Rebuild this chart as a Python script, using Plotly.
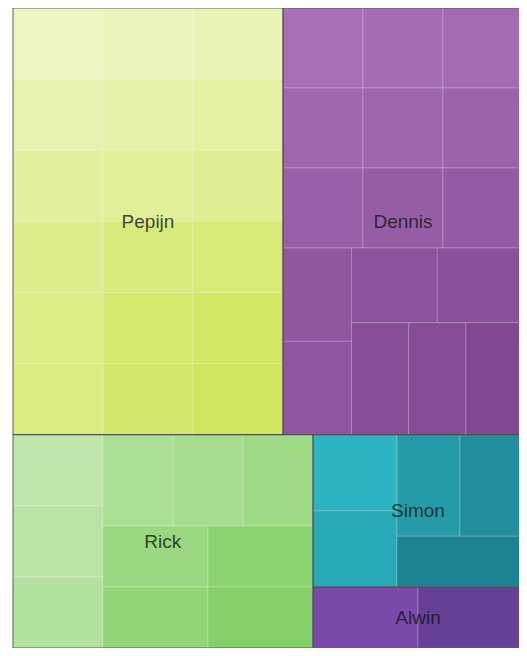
import plotly.graph_objects as go

# ---- data ----
people = ["Pepijn", "Dennis", "Rick", "Simon", "Alwin"]
pepijn_items = [1, 1, 1, 1, 1, 1, 1, 1, 1, 1, 1, 1, 1, 1, 1, 1, 1, 1]
dennis_items = [1, 1, 1, 1, 1, 1, 1, 1, 1, 1, 1, 1, 1, 1, 1, 1]
rick_items = [1, 1, 1, 1, 1, 1, 1, 1, 1, 1]
simon_items = [1, 1, 1, 1, 1]
alwin_items = [1, 1]

# ---- styles ----
light_cols = ["#ecf5c0", "#a86fb8", "#bfe7ac", "#2db4c3", "#7a4aab"]
dark_cols = ["#d0e65e", "#824894", "#86d06a", "#1d8292", "#663f96"]


def hex2rgb(h):
    h = h.lstrip("#")
    return tuple(int(h[i:i + 2], 16) for i in (0, 2, 4))


def mix(a, b, t):
    ca, cb = hex2rgb(a), hex2rgb(b)
    return "rgb(%d,%d,%d)" % tuple(round(ca[k] + (cb[k] - ca[k]) * t) for k in range(3))


items = [pepijn_items, dennis_items, rick_items, simon_items, alwin_items]

ids, labels, parents, values, colors, linecols = [], [], [], [], [], []
for p, vals, lc, dc in zip(people, items, light_cols, dark_cols):
    ids.append(p)
    labels.append(p)
    parents.append("")
    values.append(sum(vals))
    colors.append(mix(lc, dc, 0.5))
    linecols.append("rgba(255,255,255,0.25)")
    n = len(vals)
    for i, v in enumerate(vals):
        t = i / (n - 1) if n > 1 else 0.5
        ids.append(f"{p}-{i + 1}")
        labels.append(f"{p} {i + 1}")
        parents.append(p)
        values.append(v)
        colors.append(mix(lc, dc, t))
        linecols.append("rgba(255,255,255,0.22)")

fig = go.Figure()

# children layer
fig.add_trace(go.Treemap(
    ids=ids, labels=labels, parents=parents, values=values,
    branchvalues="total",
    marker=dict(colors=colors, line=dict(color=linecols, width=1),
                pad=dict(t=0, l=0, r=0, b=0)),
    tiling=dict(pad=0, packing="squarify"),
    pathbar=dict(visible=False),
    textinfo="none",
    root=dict(color="rgba(0,0,0,0)"),
    hoverinfo="label+value",
))

# parent outline + labels layer
fig.add_trace(go.Treemap(
    ids=people, labels=people, parents=[""] * len(people),
    values=[sum(v) for v in items],
    branchvalues="total",
    marker=dict(colors=["rgba(0,0,0,0)"] * len(people),
                line=dict(color="rgba(75,75,75,0.9)", width=1),
                pad=dict(t=0, l=0, r=0, b=0)),
    tiling=dict(pad=0, packing="squarify"),
    pathbar=dict(visible=False),
    textinfo="label",
    textposition="middle center",
    insidetextfont=dict(family="Liberation Sans, Arial, sans-serif", size=19,
                        color="rgba(20,20,20,0.8)"),
    root=dict(color="rgba(0,0,0,0)"),
    hoverinfo="skip",
))

# page body has an 8px margin, so the figure is offset by 8px
fig.update_layout(
    width=519, height=640,
    margin=dict(l=5, r=4, t=0, b=0),
    paper_bgcolor="white",
    showlegend=False,
)

fig.write_html("out.html")
